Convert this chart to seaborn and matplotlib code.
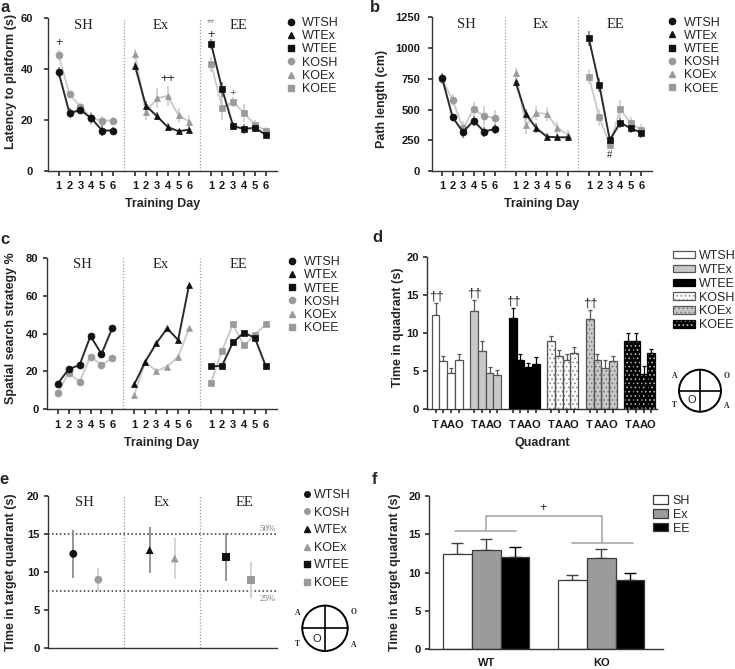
import matplotlib
matplotlib.use("Agg")
import matplotlib.pyplot as plt
import seaborn as sns
import pandas as pd
from matplotlib.lines import Line2D
from matplotlib.patches import Patch, Circle

W, H = 735, 669

# ---------------- data ----------------
days = [1, 2, 3, 4, 5, 6]
housing = ["SH", "Ex", "EE"]
series = ["WTSH", "WTEx", "WTEE", "KOSH", "KOEx", "KOEE"]

# a: latency to platform (s)
latency = {
    "WTSH": [38.8, 22.7, 24.0, 20.7, 15.9, 15.9],
    "WTEx": [41.4, 25.7, 21.6, 17.3, 15.6, 16.3],
    "WTEE": [49.8, 32.1, 17.7, 16.5, 17.0, 14.2],
    "KOSH": [45.5, 30.1, 25.3, 20.7, 19.8, 19.8],
    "KOEx": [46.0, 23.1, 28.6, 29.5, 21.9, 19.4],
    "KOEE": [41.9, 24.9, 27.1, 22.9, 18.1, 15.9],
}
latency_err = {
    "WTSH": [2.0, 2.0, 1.5, 2.0, 2.0, 1.5],
    "WTEx": [1.5, 2.0, 1.5, 1.5, 1.0, 1.5],
    "WTEE": [2.0, 3.0, 1.5, 2.0, 1.5, 1.5],
    "KOSH": [2.0, 1.5, 1.5, 2.5, 2.0, 1.5],
    "KOEx": [2.0, 3.0, 4.0, 4.0, 3.0, 2.5],
    "KOEE": [3.0, 5.0, 2.0, 3.5, 2.0, 1.5],
}

# b: path length (cm)
path_len = {
    "WTSH": [753, 436, 317, 409, 320, 342],
    "WTEx": [724, 461, 347, 279, 274, 274],
    "WTEE": [1079, 700, 252, 393, 347, 312],
    "KOSH": [745, 577, 347, 501, 450, 428],
    "KOEx": [794, 374, 472, 464, 352, 293],
    "KOEE": [767, 436, 214, 501, 388, 333],
}
path_err = {
    "WTSH": [40, 30, 50, 40, 40, 40],
    "WTEx": [30, 40, 40, 30, 30, 30],
    "WTEE": [60, 60, 30, 40, 40, 40],
    "KOSH": [40, 50, 60, 60, 80, 70],
    "KOEx": [40, 70, 60, 60, 50, 40],
    "KOEE": [60, 70, 30, 80, 50, 50],
}

# c: spatial search strategy %
spatial = {
    "WTSH": [13.5, 21.1, 23.4, 38.7, 29.2, 43.0],
    "WTEx": [13.2, 25.1, 34.8, 42.7, 36.6, 65.6],
    "WTEE": [22.8, 22.8, 35.3, 40.4, 37.8, 22.8],
    "KOSH": [8.4, 19.3, 14.6, 27.8, 23.4, 27.2],
    "KOEx": [7.6, 25.1, 20.2, 22.5, 27.8, 42.7],
    "KOEE": [14.1, 30.9, 44.8, 33.7, 39.2, 44.8],
}

# d: time in quadrant (s)
quadrants = ["T", "A", "A", "O"]
quad_time = {
    "WTSH": [12.4, 6.3, 4.7, 6.4],
    "WTEx": [12.9, 7.7, 4.8, 4.5],
    "WTEE": [12.0, 6.4, 5.6, 6.0],
    "KOSH": [9.0, 7.0, 6.5, 7.4],
    "KOEx": [11.9, 6.4, 5.4, 6.3],
    "KOEE": [9.0, 8.9, 4.65, 7.4],
}
quad_err = {
    "WTSH": [1.5, 0.7, 0.65, 0.9],
    "WTEx": [1.4, 1.3, 0.7, 0.7],
    "WTEE": [1.3, 0.9, 0.5, 0.9],
    "KOSH": [0.65, 0.8, 0.7, 0.7],
    "KOEx": [1.1, 0.8, 1.0, 0.7],
    "KOEE": [1.0, 1.1, 1.05, 0.5],
}
quad_marked = ["WTSH", "WTEx", "WTEE", "KOEx"]

# e: time in target quadrant (mean, spread)
target_order = ["WTSH", "KOSH", "WTEx", "KOEx", "WTEE", "KOEE"]
target_time = [12.4, 9.0, 12.9, 11.8, 12.0, 9.0]
target_spread = [3.15, 1.55, 3.05, 2.7, 3.1, 2.35]

# f: time in target quadrant, bars
genotypes = ["WT", "KO"]
f_sh = [12.4, 9.0]
f_ex = [12.95, 11.9]
f_ee = [12.0, 9.0]
f_sh_err = [1.47, 0.66]
f_ex_err = [1.44, 1.2]
f_ee_err = [1.36, 0.96]

# ---------------- style ----------------
sns.set_theme(style="ticks")
plt.rcParams["font.family"] = ["Liberation Sans", "DejaVu Sans"]
plt.rcParams.update({
    "font.weight": "bold",
    "axes.labelweight": "bold",
    "axes.labelsize": 9,
    "axes.linewidth": 1.0,
    "axes.edgecolor": "#333333",
    "xtick.labelsize": 8,
    "ytick.labelsize": 8,
    "xtick.color": "#333333",
    "ytick.color": "#333333",
    "xtick.labelcolor": "#1a1a1a",
    "ytick.labelcolor": "#1a1a1a",
    "xtick.major.size": 3.5,
    "ytick.major.size": 3,
    "xtick.major.pad": 4,
    "ytick.major.pad": 3,
    "hatch.linewidth": 0.7,
})
SERIF = ["Liberation Serif", "DejaVu Serif"]

marker_of = {"SH": "o", "Ex": "^", "EE": "s"}
msize_of = {"SH": 5, "Ex": 4.5, "EE": 5}
WT_MARK, WT_LINE, WT_ERR = "#111111", "#2b2b2b", "#8c8c8c"
KO_MARK, KO_LINE, KO_ERR = "#9a9a9a", "#cccccc", "#d2d2d2"

fig = plt.figure(figsize=(W / 100, H / 100), dpi=100)


def add_ax(left, top, right, bottom):
    return fig.add_axes([left / W, 1 - bottom / H, (right - left) / W, (bottom - top) / H])


def legend_at(ax, handles, labels, left, top, **kw):
    opts = dict(loc="upper left", bbox_to_anchor=(left / W, 1 - top / H),
                bbox_transform=fig.transFigure, frameon=False, borderpad=0,
                borderaxespad=0, prop={"weight": "normal", "size": 9})
    opts.update(kw)
    ax.legend(handles, labels, **opts)


def group_titles(ax, xs, y):
    for g, name in enumerate(housing):
        ax.text(xs[g], y, name, transform=ax.get_xaxis_transform(), ha="center",
                va="center", family=SERIF, fontsize=10.5, weight="normal", color="#222222")


def separators(ax):
    for xv in (7, 14):
        ax.axvline(xv, color="#9a9a9a", lw=0.9, ls=(0, (1, 1.5)), zorder=0)


def day_panel(ax, means, errs, ymax, ystep, ylabel, ylab_x, ylab_y, ypad):
    for name in ["KOSH", "KOEx", "KOEE", "WTSH", "WTEx", "WTEE"]:
        h = name[2:]
        g = housing.index(h)
        xs = [7 * g + d for d in days]
        wt = name.startswith("WT")
        mc, lc, ec = (WT_MARK, WT_LINE, WT_ERR) if wt else (KO_MARK, KO_LINE, KO_ERR)
        if errs is not None:
            ax.errorbar(xs, means[name], yerr=errs[name], fmt="none", ecolor=ec,
                        elinewidth=1.3, capsize=0, zorder=1)
        sns.lineplot(x=xs, y=means[name], ax=ax, color=lc, lw=1.4,
                     marker=marker_of[h], markersize=msize_of[h],
                     markerfacecolor=mc, markeredgecolor=mc, markeredgewidth=0.5,
                     zorder=3 if wt else 2)
    separators(ax)
    group_titles(ax, [3.3, 10.4, 17.5], 0.955)
    ax.set_xlim(0, 21)
    ax.set_ylim(0, ymax)
    ax.set_yticks(range(0, ymax + 1, ystep))
    ax.set_xticks([7 * g + d for g in range(3) for d in days])
    ax.set_xticklabels(days * 3)
    ax.tick_params(axis="y", pad=ypad)
    ax.set_xlabel("Training Day", labelpad=5)
    ax.set_ylabel(ylabel)
    ax.yaxis.set_label_coords(ylab_x, ylab_y)
    sns.despine(ax=ax)


def day_legend(ax, left, top):
    handles, labels = [], []
    for name in series:
        mc = WT_MARK if name.startswith("WT") else KO_MARK
        handles.append(Line2D([0], [0], marker=marker_of[name[2:]], color=mc, ls="none",
                              markersize=4.5))
        labels.append(name)
    legend_at(ax, handles, labels, left, top, handlelength=0.8, handletextpad=0.55,
              labelspacing=0.1)


def draw_pool(cx, cy, r):
    size = 3.4 * r
    pax = fig.add_axes([(cx - size / 2) / W, 1 - (cy + size / 2) / H, size / W, size / H])
    pax.set_xlim(-1.7, 1.7)
    pax.set_ylim(-1.7, 1.7)
    pax.axis("off")
    pax.add_patch(Circle((0, 0), 1, fill=False, lw=1.4, ec="black"))
    pax.plot([-1, 1], [0, 0], color="black", lw=1.2)
    pax.plot([0, 0], [-1, 1], color="black", lw=1.2)
    for (tx, ty, s) in [(-1.2, 0.68, "A"), (1.27, 0.7, "O"), (-1.2, -0.68, "T"), (1.25, -0.75, "A")]:
        pax.text(tx, ty, s, ha="center", va="center", family=SERIF, fontsize=5.5, weight="bold")
    pax.text(-0.38, -0.45, "O", ha="center", va="center", fontsize=8, weight="normal")


# ---------------- panel a ----------------
ax_a = add_ax(47.7, 18.3, 276.7, 171)
day_panel(ax_a, latency, latency_err, 60, 20, "Latency to platform (s)", -0.135, 0.585, 7.5)
for (xv, yv, s, c, fs) in [(1, 50.2, "+", "#222222", 9), (11, 36, "++", "#222222", 9),
                           (15, 58.0, "**", "#8a8a8a", 7.5), (15, 53.4, "+", "#222222", 9),
                           (17, 30.5, "+", "#555555", 8)]:
    ax_a.text(xv, yv, s, ha="center", va="center", fontsize=fs, weight="normal", color=c)
day_legend(ax_a, 285.5, 17)

# ---------------- panel b ----------------
ax_b = add_ax(431.7, 17.3, 651.7, 171)
day_panel(ax_b, path_len, path_err, 1250, 250, "Path length (cm)", -0.2, 0.47, 5.5)
ax_b.text(17, 130, "#", ha="center", va="center", fontsize=7, weight="normal", color="#333333")
day_legend(ax_b, 667, 16.5)

# ---------------- panel c ----------------
ax_c = add_ax(46.7, 257.7, 276.7, 409.3)
day_panel(ax_c, spatial, None, 80, 20, "Spatial search strategy %", -0.131, 0.535, 3)
day_legend(ax_c, 287, 256)

# ---------------- panel d ----------------
ax_d = add_ax(427.3, 256.7, 656.7, 409.3)
bar_face = {"WTSH": "white", "WTEx": "#c8c8c8", "WTEE": "black",
            "KOSH": "white", "KOEx": "#c8c8c8", "KOEE": "black"}
bar_hatch = {"KOSH": "#8c8c8c", "KOEx": "#7a7a7a", "KOEE": "#bdbdbd"}
bar_edge = {"WTSH": "#555555", "WTEx": "#555555", "WTEE": "black",
            "KOSH": "#555555", "KOEx": "#555555", "KOEE": "black"}
xt = []
legend_handles = []
for g, name in enumerate(series):
    xs = [g * 5 + b for b in range(4)]
    xt += xs
    vals = quad_time[name]
    err_c = "black" if bar_face[name] == "black" else "#555555"
    ax_d.errorbar(xs, vals, yerr=[[0] * 4, quad_err[name]], fmt="none", ecolor=err_c,
                  elinewidth=0.9, capsize=1.6, capthick=0.9, zorder=1)
    if name in bar_hatch:
        ax_d.bar(xs, vals, width=1, color=bar_face[name], edgecolor=bar_hatch[name],
                 hatch="....", linewidth=0, zorder=2)
        hatched = Patch(facecolor=bar_face[name], edgecolor=bar_hatch[name], hatch="....", lw=0)
    ax_d.bar(xs, vals, width=1, color=bar_face[name] if name not in bar_hatch else "none",
             edgecolor=bar_edge[name], linewidth=0.9, zorder=3)
    outline = Patch(facecolor=bar_face[name] if name not in bar_hatch else "none",
                    edgecolor=bar_edge[name], lw=0.9)
    legend_handles.append((hatched, outline) if name in bar_hatch else outline)
    if name in quad_marked:
        ax_d.text(xs[0] + 0.1, vals[0] + quad_err[name][0] + 0.05, "\u2020\u2020", ha="center",
                  va="bottom", fontsize=9.5, weight="normal", color="#222222")
ax_d.set_xlim(-1.08, 28.7)
ax_d.set_ylim(0, 20)
ax_d.set_yticks([0, 5, 10, 15, 20])
ax_d.set_xticks(xt)
ax_d.set_xticklabels(quadrants * 6)
ax_d.tick_params(axis="x", length=3, pad=5)
ax_d.set_xlabel("Quadrant", labelpad=5)
ax_d.set_ylabel("Time in quadrant (s)")
ax_d.yaxis.set_label_coords(-0.1, 0.54)
sns.despine(ax=ax_d)
legend_at(ax_d, legend_handles, series, 673, 250, handlelength=1.76, handleheight=0.56,
          handletextpad=0.3, labelspacing=0.15)
draw_pool(700, 390.7, 21)

# ---------------- panel e ----------------
ax_e = add_ax(47.7, 496, 276.7, 648.3)
e_x = [7 * g + off for g in range(3) for off in (2.35, 4.65)]
e_df = pd.DataFrame({"x": e_x, "time": target_time, "group": target_order})
for xv, yv, sp, name in zip(e_x, target_time, target_spread, target_order):
    ax_e.errorbar([xv], [yv], yerr=[sp], fmt="none",
                  ecolor=WT_ERR if name.startswith("WT") else KO_ERR, elinewidth=1.3, capsize=0, zorder=1)
e_palette = {n: (WT_MARK if n.startswith("WT") else KO_MARK) for n in target_order}
e_markers = {n: marker_of[n[2:]] for n in target_order}
sns.scatterplot(data=e_df, x="x", y="time", hue="group", style="group", palette=e_palette,
                markers=e_markers, s=32, edgecolor="none", legend=False, ax=ax_e, zorder=3)
separators(ax_e)
group_titles(ax_e, [3.4, 10.5, 18.0], 0.955)
for yv in (15, 7.5):
    ax_e.axhline(yv, color="#333333", lw=1.1, ls=(0, (1, 1.6)), zorder=0)
ax_e.text(20.9, 15.65, "50%", ha="right", va="center", family=SERIF, fontsize=6.5,
          weight="normal", color="#777777")
ax_e.text(20.9, 6.5, "25%", ha="right", va="center", family=SERIF, fontsize=6.5,
          weight="normal", color="#777777")
ax_e.set_xlim(0, 21)
ax_e.set_ylim(0, 20)
ax_e.set_yticks([0, 5, 10, 15, 20])
ax_e.set_xticks([])
ax_e.set_xlabel("")
ax_e.set_ylabel("Time in target quadrant (s)")
ax_e.yaxis.set_label_coords(-0.136, 0.5)
sns.despine(ax=ax_e)
e_handles = [Line2D([0], [0], marker=e_markers[n], color=e_palette[n], ls="none", markersize=4)
             for n in target_order]
legend_at(ax_e, e_handles, target_order, 301.7, 489, handlelength=0.8, handletextpad=0.15,
          labelspacing=0.45)
draw_pool(325, 628.3, 22.7)

# ---------------- panel f ----------------
ax_f = add_ax(429.3, 496, 663.3, 649.3)
f_df = pd.DataFrame({
    "genotype": genotypes * 3,
    "housing": ["SH"] * 2 + ["Ex"] * 2 + ["EE"] * 2,
    "time": f_sh + f_ex + f_ee,
})
f_pal = {"SH": "white", "Ex": "#9b9b9b", "EE": "black"}
sns.barplot(data=f_df, x="genotype", y="time", hue="housing", order=genotypes,
            hue_order=housing, palette=f_pal, saturation=1, width=0.75, gap=0,
            edgecolor="#3a3a3a", linewidth=0.9, errorbar=None, legend=False, ax=ax_f, zorder=2)
for k, (vals, errs) in enumerate([(f_sh, f_sh_err), (f_ex, f_ex_err), (f_ee, f_ee_err)]):
    xs = [i + (k - 1) * 0.25 for i in range(2)]
    ax_f.errorbar(xs, vals, yerr=[[0, 0], errs], fmt="none",
                  ecolor="black" if k == 2 else "#444444",
                  elinewidth=1.0, capsize=4.3, capthick=1.0, zorder=1)
br = "#a8a8a8"
ax_f.plot([-0.27, 0.26], [15.48, 15.48], color=br, lw=1.2)
ax_f.plot([0.75, 1.28], [13.9, 13.9], color=br, lw=1.2)
ax_f.plot([0, 0, 1.01, 1.01], [15.48, 17.4, 17.4, 13.9], color=br, lw=1.2)
ax_f.text(0.49, 18.4, "+", ha="center", va="center", fontsize=9, weight="normal", color="#222222")
ax_f.set_xlim(-0.495, 1.54)
ax_f.set_ylim(0, 20)
ax_f.set_yticks([0, 5, 10, 15, 20])
ax_f.tick_params(axis="x", length=0, pad=6)
ax_f.set_xlabel("")
ax_f.set_ylabel("Time in target quadrant (s)")
ax_f.yaxis.set_label_coords(-0.121, 0.506)
sns.despine(ax=ax_f)
f_handles = [Patch(facecolor=f_pal[h], edgecolor="#3a3a3a", lw=0.9) for h in housing]
legend_at(ax_f, f_handles, housing, 652.7, 495, handlelength=1.25, handleheight=0.64,
          handletextpad=0.35, labelspacing=0.15)

# ---------------- panel letters ----------------
for (px, py, s) in [(5, 7, "a"), (375, 7, "b"), (5, 240, "c"), (377, 238, "d"),
                    (4, 480, "e"), (375, 480, "f")]:
    fig.text(px / W, 1 - py / H, s, ha="center", va="center", fontsize=12, weight="bold")

fig.savefig("out.png", dpi=100)
